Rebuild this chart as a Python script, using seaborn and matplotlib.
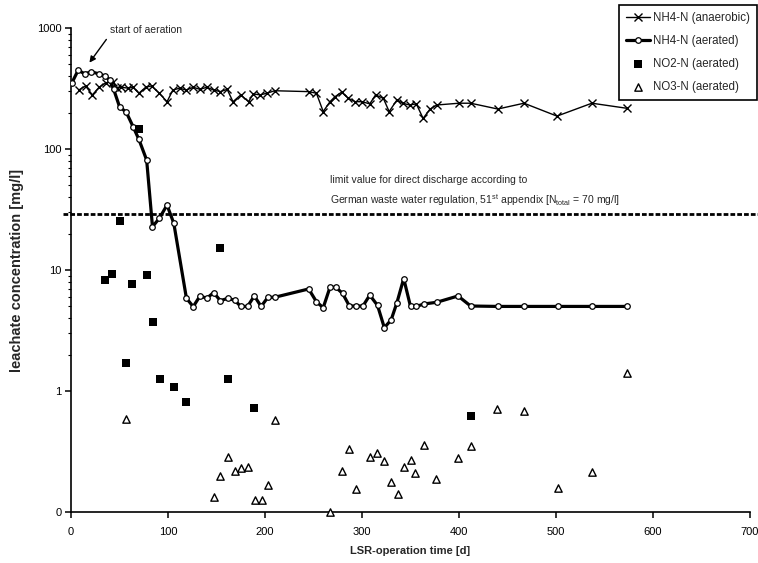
import matplotlib
matplotlib.use('Agg')
import matplotlib.pyplot as plt
import seaborn as sns
from matplotlib.ticker import FixedLocator, FixedFormatter, NullFormatter

# ---------------- data ----------------
anaerobic_day = [8, 15, 22, 29, 36, 43, 47, 52, 59, 64, 70, 77, 83, 91, 99, 105, 112, 119, 126, 133,
                 140, 147, 154, 161, 167, 175, 183, 188, 195, 202, 210, 245, 253, 260, 267, 272, 279, 286, 293, 300,
                 308, 314, 322, 328, 336, 342, 349, 356, 363, 370, 377, 400, 412, 440, 467, 501, 537, 573]
anaerobic_val = [307, 332, 280, 324, 353, 360, 318, 324, 318, 324, 289, 324, 332, 289, 246, 307, 318, 307, 324, 311,
                 324, 307, 298, 311, 246, 280, 246, 285, 280, 289, 303, 298, 289, 204, 246, 270, 295, 262, 246, 246,
                 236, 280, 262, 204, 254, 239, 231, 236, 179, 213, 231, 239, 239, 214, 239, 187, 239, 217]

aerated_day = [1, 7.5, 14, 21, 29, 35, 40, 44, 50, 57, 64, 70, 78, 84, 91, 99, 106, 119, 126, 133,
               140, 147, 154, 162, 169, 175, 182, 189, 196, 203, 210, 245, 253, 260, 267, 273, 280, 287, 294, 301,
               308, 316, 323, 330, 336, 343, 350, 356, 364, 377, 399, 412, 440, 467, 502, 537, 573]
aerated_val = [353, 450, 417, 435, 417, 401, 371, 311, 224, 201, 153, 120, 81, 22.8, 26.7, 34.4, 24.3, 5.84, 4.98, 6.1,
               5.84, 6.5, 5.58, 5.84, 5.6, 5.0, 5.0, 6.1, 5.0, 5.95, 5.95, 6.97, 5.47, 4.88, 7.2, 7.2, 6.4, 5.04, 5.04, 5.04,
               6.2, 5.1, 3.34, 3.86, 5.37, 8.5, 5.0, 5.0, 5.24, 5.41, 6.1, 5.04, 5.0, 5.0, 5.0, 5.0, 5.0]

no2_day = [35, 42, 50, 57, 63, 70, 78, 85, 92, 106, 119, 154, 162, 189, 412]
no2_val = [8.3, 9.3, 25.5, 1.71, 7.7, 146, 9.1, 3.74, 1.25, 1.07, 0.81, 15.2, 1.25, 0.72, 0.625]

no3_day = [57, 147, 154, 162, 169, 175, 182, 190, 197, 203, 210, 267, 279, 287, 294, 308,
           315, 323, 330, 337, 343, 350, 355, 364, 376, 399, 412, 439, 467, 502, 537, 573]
no3_val = [0.587, 0.133, 0.199, 0.285, 0.218, 0.231, 0.235, 0.126, 0.126, 0.167, 0.576, 0.1, 0.218, 0.332, 0.155, 0.285,
           0.307, 0.264, 0.177, 0.142, 0.235, 0.267, 0.21, 0.358, 0.189, 0.279, 0.348, 0.71, 0.683, 0.158, 0.214, 1.41]

limit_value = 29
y_ticks = [0.1, 1, 10, 100, 1000]
y_tick_labels = ['0', '1', '10', '100', '1000']
x_ticks = [0, 100, 200, 300, 400, 500, 600, 700]

series_labels = ['NH4-N (anaerobic)', 'NH4-N (aerated)', 'NO2-N (aerated)', 'NO3-N (aerated)']

# ---------------- style ----------------
sns.set_style('ticks')
plt.rcParams['font.family'] = ['Liberation Sans', 'DejaVu Sans']
plt.rcParams['mathtext.fontset'] = 'custom'
plt.rcParams['mathtext.rm'] = 'Liberation Sans'
plt.rcParams['mathtext.default'] = 'regular'

fig = plt.figure(figsize=(7.58, 5.63), dpi=100)
ax = fig.add_axes([71 / 758, 1 - 512 / 563, 679 / 758, 484 / 563])
ax.set_yscale('log')

sns.lineplot(x=anaerobic_day, y=anaerobic_val, ax=ax, sort=False, estimator=None,
             color='black', linewidth=1.0, marker='x', markersize=5.5,
             markeredgewidth=1.0, markeredgecolor='black', label=series_labels[0], zorder=3)
sns.lineplot(x=aerated_day, y=aerated_val, ax=ax, sort=False, estimator=None,
             color='black', linewidth=2.3, marker='o', markersize=4,
             markerfacecolor='white', markeredgecolor='black', markeredgewidth=0.9,
             label=series_labels[1], zorder=4)
sns.scatterplot(x=no2_day, y=no2_val, ax=ax, marker='s', s=40, color='black',
                edgecolor='black', linewidth=0, label=series_labels[2], zorder=5, clip_on=False)
sns.scatterplot(x=no3_day, y=no3_val, ax=ax, marker='^', s=28, color='white',
                edgecolor='black', linewidth=1.0, label=series_labels[3], zorder=5, clip_on=False)

ax.axhline(limit_value, xmin=-0.012, xmax=1.012, color='black', linewidth=2,
           dashes=(1.7, 0.75), clip_on=False, zorder=2)

ax.set_xlim(0, 700)
ax.set_ylim(0.1, 1000)
sns.despine(ax=ax)
for side in ['left', 'bottom']:
    ax.spines[side].set_linewidth(1.2)
    ax.spines[side].set_color('black')

ax.set_xticks(x_ticks)
ax.tick_params(axis='x', length=4, width=1.1, pad=7, labelsize=8, colors='black')
ax.yaxis.set_major_locator(FixedLocator(y_ticks))
ax.yaxis.set_major_formatter(FixedFormatter(y_tick_labels))
minor = [k * 10 ** n for n in range(0, 3) for k in range(2, 10)]
ax.yaxis.set_minor_locator(FixedLocator(minor))
ax.yaxis.set_minor_formatter(NullFormatter())
ax.tick_params(axis='y', which='major', length=4, width=1.1, pad=3, labelsize=8, colors='black')
ax.tick_params(axis='y', which='minor', length=2.5, width=0.8, colors='black')

ax.set_xlabel('LSR-operation time [d]', fontsize=8, fontweight='bold', labelpad=6)
ax.set_ylabel('leachate concentration [mg/l]', fontsize=10.5, fontweight='bold', labelpad=9)

ax.text(267, 55, 'limit value for direct discharge according to', fontsize=7.5, ha='left', va='center')
ax.text(267, 37.5, 'German waste water regulation, 51$^{st}$ appendix [N$_{total}$ = 70 mg/l]',
        fontsize=7.5, ha='left', va='center')

ax.annotate('start of aeration', xy=(19, 517), xytext=(40.5, 962), fontsize=7.5,
            ha='left', va='center', annotation_clip=False,
            arrowprops=dict(arrowstyle='-|>', color='black', lw=1, relpos=(0, 0.1),
                            shrinkA=1, shrinkB=0, mutation_scale=9))

handles, labels = ax.get_legend_handles_labels()
if ax.get_legend() is not None:
    ax.get_legend().remove()
leg = fig.legend(handles, labels, loc='upper right', bbox_to_anchor=(757 / 758, 1 - 5 / 563),
                 frameon=True, fancybox=False, edgecolor='black', fontsize=8.3,
                 handlelength=2.1, handletextpad=0.3, labelspacing=0.95, borderpad=0.6,
                 borderaxespad=0, framealpha=1)
leg.get_frame().set_linewidth(1.2)

fig.savefig('out.png', dpi=100)
